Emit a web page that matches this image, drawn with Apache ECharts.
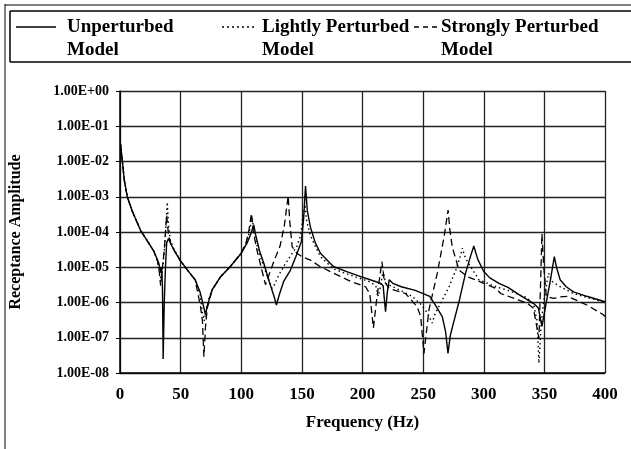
<!DOCTYPE html>
<html><head><meta charset="utf-8">
<script src="https://cdn.jsdelivr.net/npm/echarts@6/dist/echarts.min.js"></script>
<style>html,body{margin:0;padding:0;background:#fff}#c{width:631px;height:449px}</style>
</head><body><div id="c"></div>
<script>
const xTicks = [0, 50, 100, 150, 200, 250, 300, 350, 400];
const seriesNames = ['Unperturbed\nModel', 'Lightly Perturbed\nModel', 'Strongly Perturbed\nModel'];

const unpertFreq = [0.5,1,2,3.5,6,10,17,22,28,32,33.5,34.3,35,35.6,36.5,37.5,38.5,40,42,46,50,56,62,66,68.5,70.5,72,76,83,91,100,105,108,110.3,112,115,118.6,123,127,129,131,135,140.6,145,149.6,151.5,153,154.5,157,161,165.3,176,187,198.6,210,215,217,219,220.5,222,225,232,243.5,255.5,260,265.8,268.5,270.5,272.5,275,280,285,289,291.8,295,300,305,312.6,320,330,341,345,348,350,352.5,355,358.2,360,363,368,374,385,400];
const unpertAmp = [3e-2,2e-2,1e-2,3e-3,1e-3,4e-4,1.1e-4,6e-5,2.8e-5,1.3e-5,7e-6,1e-5,3e-6,2.5e-8,1e-6,1e-5,5e-5,6.5e-5,4.5e-5,2.5e-5,1.5e-5,8e-6,4.4e-6,2e-6,9e-7,4.5e-7,8e-7,2.3e-6,5.4e-6,1.05e-5,2.5e-5,5e-5,9e-5,1.6e-4,8e-5,3e-5,1.3e-5,4e-6,1.5e-6,8.5e-7,1.5e-6,4e-6,8.3e-6,2e-5,5.4e-5,2.5e-4,2e-3,4e-4,1.4e-4,5e-5,2.5e-5,1.05e-5,7.5e-6,5.4e-6,4e-6,3.5e-6,3e-6,5.5e-7,2e-6,4.4e-6,3.5e-6,2.8e-6,2.2e-6,1.5e-6,8.5e-7,4e-7,1.5e-7,3.6e-8,1.2e-7,2.6e-7,1.2e-6,6.8e-6,2e-5,4e-5,1.7e-5,7.6e-6,5e-6,3.5e-6,2.7e-6,1.6e-6,9.5e-7,7e-7,2.1e-7,5e-7,1.5e-6,4.4e-6,2e-5,1e-5,4.4e-6,2.8e-6,2e-6,1.5e-6,1.05e-6];

const lightFreq = [0.5,1,2,3.5,6,10,17,22,28,31,32.9,34,35.5,37,39,40,41.5,44,50,56,62,66,68,69.5,71,73,76,83,91,100,105,109,111,114,118,122,125.5,127,131,136,141,146,149,151,152.5,154,157,161,165.3,176,190,205,211,213,215,217,219,225,241,248,253.6,257.5,260,264.5,271.4,277,280.5,282.4,284,286.5,296,310,320,335,341,344,345.5,347.5,350,353.5,356,363,374,385,400];
const lightAmp = [3e-2,2e-2,1e-2,3e-3,1e-3,4e-4,1.1e-4,6e-5,2.8e-5,1.5e-5,6.8e-6,4e-6,1.2e-5,5e-5,7e-4,1.5e-4,6e-5,3.5e-5,1.5e-5,8e-6,4.4e-6,1.8e-6,5e-7,3e-7,6e-7,1.2e-6,2.3e-6,5.4e-6,1.05e-5,2.5e-5,5.5e-5,2.5e-4,8e-5,3e-5,1.2e-5,5e-6,2.5e-6,3e-6,6e-6,1.2e-5,2.2e-5,4e-5,8e-5,3e-4,6e-4,2e-4,8e-5,4e-5,2e-5,9e-6,6e-6,4e-6,3e-6,1.5e-6,3e-6,8e-6,3.5e-6,2.8e-6,1.5e-6,9e-7,5e-7,2.6e-7,5e-7,9.5e-7,2.8e-6,8.3e-6,2e-5,3.5e-5,2.2e-5,1.45e-5,4.4e-6,2.8e-6,2.2e-6,1.4e-6,9e-7,3e-7,1.9e-8,3e-7,1.5e-6,6.8e-6,4e-6,2.8e-6,1.8e-6,1.4e-6,1e-6];

const strongFreq = [0.5,1,2,3.5,6,10,17,22,28,31,32.5,33.5,35,36.5,38.5,40,42,46,50,56,62,66.4,68,69.2,70.5,72,76,83,91,100,104,106.5,108.4,110,113,117,120,122,127,132,135.5,138.7,140,142,146,150,157,165,176,190,202.5,206,209,212,216,218,222,235.5,245,248,250.7,254.8,261.7,267.3,270.6,272,274,279.6,286.6,293,310,314,336,341,345.5,347,348,349.5,351.6,357.5,363,369,385,398.6,400];
const strongAmp = [3e-2,2e-2,1e-2,3e-3,1e-3,4e-4,1.1e-4,6e-5,2.8e-5,1.5e-5,7e-6,3e-6,1e-5,3e-5,3e-4,8e-5,4.5e-5,2.5e-5,1.5e-5,8e-6,4.4e-6,7.6e-7,3e-7,2.9e-8,2e-7,7e-7,2.3e-6,5.4e-6,1.05e-5,2.5e-5,5e-5,1.2e-4,3.4e-4,1e-4,3e-5,8.3e-6,3.2e-6,5e-6,1.5e-5,4e-5,1.5e-4,1.05e-3,2e-4,3.8e-5,2.5e-5,2e-5,1.6e-5,1.05e-5,6.8e-6,4e-6,2.8e-6,1.8e-6,1.9e-7,1.5e-6,1.45e-5,4e-6,2.5e-6,1.8e-6,7.6e-7,4e-7,3.6e-8,6.2e-7,6.8e-6,7.4e-5,4.2e-4,1.2e-4,3.8e-5,8.3e-6,5.4e-6,4.4e-6,2.5e-6,1.8e-6,9.5e-7,6.8e-7,9.5e-8,5e-6,9e-5,1e-5,1.5e-6,1.3e-6,1.45e-6,1.5e-6,8.5e-7,4.5e-7,4e-7];

const zip = (xs, ys) => xs.map((x, i) => [x, ys[i]]);
const FONT = '"Liberation Serif", "Times New Roman", serif';
const txt = (extra) => Object.assign({ fontFamily: FONT, fontWeight: 'bold', color: '#000' }, extra);

function sci(v) {
  const e = Math.round(Math.log10(v));
  return '1.00E' + (e < 0 ? '-' : '+') + String(Math.abs(e)).padStart(2, '0');
}

const chart = echarts.init(document.getElementById('c'), null, { renderer: 'canvas' });
const legendY = 27;
const legendItems = [
  { x1: 16, x2: 56, tx: 67, dash: null },
  { x1: 222, x2: 254, tx: 262, dash: [2, 3] },
  { x1: 414, x2: 437, tx: 441, dash: [5, 4] }
];
const graphic = [
  { type: 'line', shape: { x1: 5, y1: 4, x2: 5, y2: 449 }, style: { stroke: '#000', lineWidth: 1 } },
  { type: 'line', shape: { x1: 5, y1: 5, x2: 631, y2: 5 }, style: { stroke: '#000', lineWidth: 1 } },
  { type: 'line', shape: { x1: 10, y1: 11, x2: 631, y2: 11 }, style: { stroke: '#000', lineWidth: 1.5 } },
  { type: 'line', shape: { x1: 10, y1: 11, x2: 10, y2: 62 }, style: { stroke: '#000', lineWidth: 1.5 } },
  { type: 'line', shape: { x1: 10, y1: 62, x2: 631, y2: 62 }, style: { stroke: '#000', lineWidth: 1.5 } }
];
legendItems.forEach((it, i) => {
  graphic.push({ type: 'line', shape: { x1: it.x1, y1: legendY, x2: it.x2, y2: legendY },
    style: { stroke: '#000', lineWidth: 1.3, lineDash: it.dash } });
  graphic.push({ type: 'text', left: it.tx, top: legendY - 11.5,
    style: { text: seriesNames[i], font: 'bold 19px ' + FONT, fill: '#000', lineHeight: 23 } });
});

const lineStyles = [
  { color: '#000', width: 1.4, type: 'solid' },
  { color: '#000', width: 1.4, type: [1.5, 3] },
  { color: '#000', width: 1.3, type: [7, 4] }
];
const datas = [zip(unpertFreq, unpertAmp), zip(lightFreq, lightAmp), zip(strongFreq, strongAmp)];

chart.setOption({
  animation: false,
  backgroundColor: '#fff',
  grid: { left: 119, right: 26, top: 91, bottom: 76, containLabel: false },
  xAxis: {
    type: 'value', min: 0, max: 400, interval: 50,
    name: 'Frequency (Hz)', nameLocation: 'middle', nameGap: 41,
    nameTextStyle: txt({ fontSize: 17 }),
    axisLabel: txt({ fontSize: 17, margin: 13, formatter: v => xTicks.includes(v) ? String(v) : '' }),
    axisLine: { lineStyle: { color: '#000', width: 1.5 } },
    axisTick: { show: false },
    splitLine: { show: true, lineStyle: { color: '#222', width: 1.3 } }
  },
  yAxis: {
    type: 'log', logBase: 10, min: 1e-8, max: 1,
    name: 'Receptance Amplitude', nameLocation: 'middle', nameGap: 96, nameRotate: 90,
    nameTextStyle: txt({ fontSize: 16 }),
    axisLabel: txt({ fontSize: 14, margin: 11, formatter: sci }),
    axisLine: { show: true, lineStyle: { color: '#000', width: 1.5 } },
    axisTick: { show: true, length: 4, lineStyle: { color: '#000' } },
    splitLine: { show: true, lineStyle: { color: '#222', width: 1.3 } }
  },
  graphic: graphic,
  series: datas.map((d, i) => ({
    type: 'line', name: seriesNames[i], data: d, showSymbol: false, symbol: 'none',
    lineStyle: lineStyles[i], z: 3 - i
  }))
});
</script></body></html>
